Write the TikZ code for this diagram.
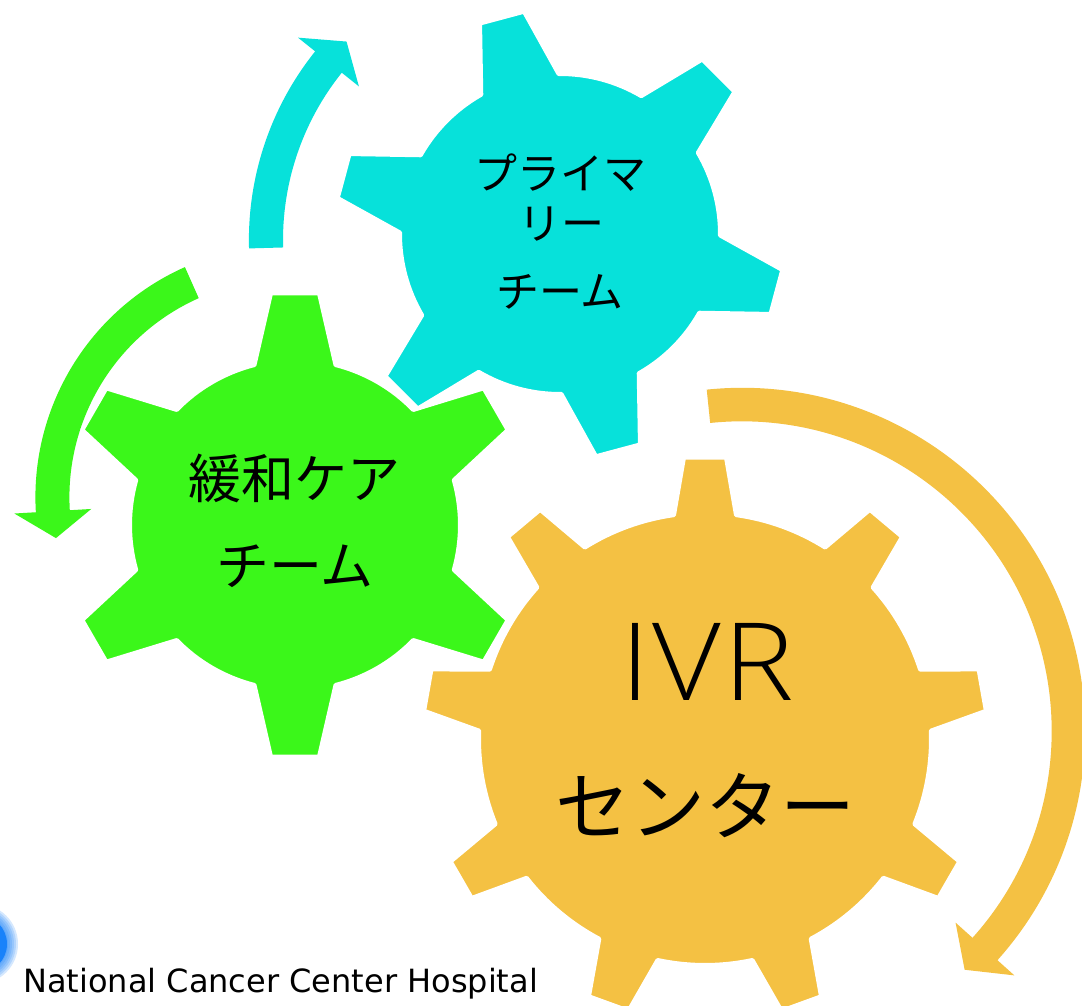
\documentclass[tikz,border=0pt]{standalone}
\usepackage{fontspec}
\newfontfamily\jpfont{Noto Sans CJK JP}
\newfontfamily\latinfont{Open Sans}[UprightFont={* Light}]
\newfontfamily\footfont{DejaVu Sans}
\usetikzlibrary{calc}

\definecolor{gearcyan}{RGB}{7,225,218}
\definecolor{geargreen}{RGB}{59,247,26}
\definecolor{gearorange}{RGB}{244,193,67}
\definecolor{logoblue}{RGB}{25,130,250}

\tikzset{
  gearstyle/.style={draw=white, line width=4pt, line join=round},
  label/.style={inner sep=0pt, anchor=base, text=black},
}

% one gear around the current origin:
% #1 style, #2 teeth, #3 angle of first tooth, #4 body radius,
% #5 tip radius, #6 half width at the root, #7 half width at the tip
\newcommand\gearwheel[7]{%
  \pgfmathsetmacro\gA{asin(#6/#4)}%
  \pgfmathsetmacro\gB{atan(#7/#5)}%
  \pgfmathsetmacro\gR{veclen(#5,#7)}%
  \pgfmathsetmacro\gS{360/#2}%
  \filldraw[#1] ({#3-\gA}:#4pt)
    \foreach \k in {1,...,#2}{
      -- ({#3+(\k-1)*\gS-\gB}:\gR pt) -- ({#3+(\k-1)*\gS+\gB}:\gR pt)
      -- ({#3+(\k-1)*\gS+\gA}:#4pt)
      arc[start angle={#3+(\k-1)*\gS+\gA}, end angle={#3+\k*\gS-\gA}, radius=#4pt]
    } -- cycle;
}

% curved arrow around the current origin:
% #1 colour, #2 inner radius, #3 outer radius, #4 start angle,
% #5 angle where the head begins, #6 tip angle, #7 half width of the head
\newcommand\turnarrow[7]{%
  \pgfmathsetmacro\aM{(#2+#3)/2}%
  \pgfmathsetmacro\aO{\aM+#7}%
  \pgfmathsetmacro\aI{\aM-#7}%
  \fill[#1] (#4:#3pt) arc[start angle=#4, end angle=#5, radius=#3pt]
    -- (#5:\aO pt) -- (#6:\aM pt) -- (#5:\aI pt) -- (#5:#2pt)
    arc[start angle=#5, end angle=#4, radius=#2pt] -- cycle;
}

\begin{document}
\begin{tikzpicture}[x=1pt,y=1pt]
\useasboundingbox (0,0) rectangle (1082,-1006);
\fill[white] (0,0) rectangle (1082,-1006);

% centres of gears and arrows
\coordinate (cyanhub) at (560,-234);
\coordinate (greenhub) at (295,-525);
\coordinate (orangehub) at (705,-739);
\coordinate (cyanturn) at (550.6,-240);
\coordinate (greenturn) at (287.4,-497.3);
\coordinate (orangeturn) at (742,-731);

% partly hidden logo at the lower left
\foreach \r in {30,32,...,40}{
  \fill[logoblue, opacity=0.18] (-22,-944) circle[radius=\r pt];
}
\fill[logoblue] (-22,-944) circle[radius=29pt];

% rotation arrows
\begin{scope}[shift={(orangeturn)}]
  \turnarrow{gearorange}{309.7}{343.2}{95.9}{-41.9}{-47}{39.5}
\end{scope}
\begin{scope}[shift={(greenturn)}]
  \turnarrow{geargreen}{218}{252}{114}{183.4}{190}{38.5}
\end{scope}
\begin{scope}[shift={(cyanturn)}]
  \turnarrow{gearcyan}{267.6}{301.7}{181.6}{141.3}{135.8}{39}
\end{scope}

% gears, back to front
\begin{scope}[shift={(orangehub)}]
  \gearwheel{gearstyle, fill=gearorange}{9}{90}{226}{281.5}{31}{21}
\end{scope}
\begin{scope}[shift={(greenhub)}]
  \gearwheel{gearstyle, fill=geargreen}{6}{90}{165}{231.7}{40.5}{24}
\end{scope}
\begin{scope}[shift={(cyanhub)}]
  \gearwheel{gearstyle, fill=gearcyan}{6}{105}{160}{224}{40}{22.75}
\end{scope}

% gear labels
\node[label, font=\jpfont\fontsize{43}{43}\selectfont] (c1) at (560,-189.5) {プライマ};
\node[label, font=\jpfont\fontsize{43}{43}\selectfont] (c2) at (561,-239) {リー};
\node[label, font=\jpfont\fontsize{43}{43}\selectfont] (c3) at (560,-307) {チーム};

\node[label, font=\jpfont\fontsize{53}{53}\selectfont] (g1) at (294,-498.5) {緩和ケア};
\node[label, font=\jpfont\fontsize{53}{53}\selectfont] (g2) at (295,-585) {チーム};

\node[label, font=\latinfont\fontsize{108}{108}\selectfont] (o1) at (707,-700)
  {\scalebox{1.1}[1]{\addfontfeature{LetterSpace=2}IVR}};
\node[label, font=\jpfont\fontsize{75}{75}\selectfont] (o2) at (705,-834) {センター};

% footer
\node[inner sep=0pt, anchor=base west, font=\footfont\fontsize{32}{32}\selectfont] (nch) at (23,-992) {National Cancer Center Hospital};
\end{tikzpicture}
\end{document}
